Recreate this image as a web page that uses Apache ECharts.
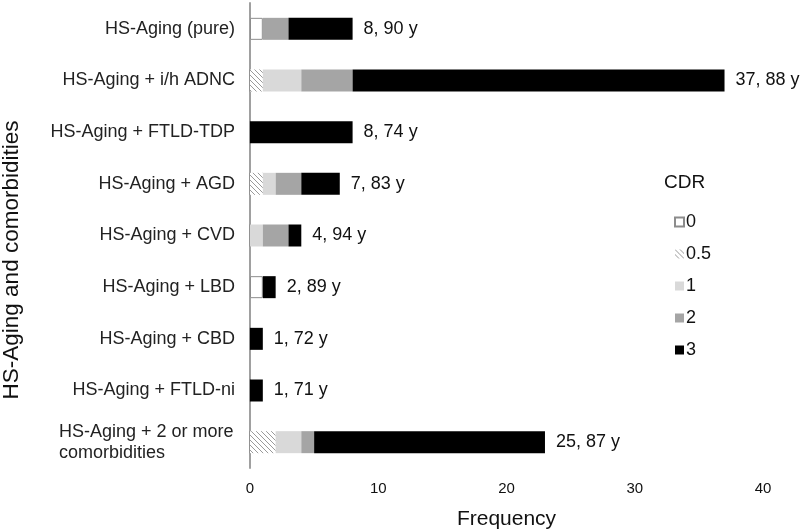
<!DOCTYPE html>
<html><head><meta charset="utf-8">
<script src="https://cdn.jsdelivr.net/npm/echarts@6/dist/echarts.min.js"></script>
<style>html,body{margin:0;padding:0;background:#fff}#c{width:800px;height:531px}</style>
</head><body><div id="c"></div>
<script>
const categories = ["HS-Aging (pure)", "HS-Aging + i/h ADNC", "HS-Aging + FTLD-TDP", "HS-Aging + AGD", "HS-Aging + CVD", "HS-Aging + LBD", "HS-Aging + CBD", "HS-Aging + FTLD-ni", "HS-Aging + 2 or more\ncomorbidities"];
const cdrNames = ["0", "0.5", "1", "2", "3"];
const cdr0  = [1, 0, 0, 0, 0, 1, 0, 0, 0];
const cdr05 = [0, 1, 0, 1, 0, 0, 0, 0, 2];
const cdr1  = [0, 3, 0, 1, 1, 0, 0, 0, 2];
const cdr2  = [2, 4, 0, 2, 2, 0, 0, 0, 1];
const cdr3  = [5, 29, 8, 3, 1, 1, 1, 1, 18];
const endLabels = ["8, 90 y", "37, 88 y", "8, 74 y", "7, 83 y", "4, 94 y", "2, 89 y", "1, 72 y", "1, 71 y", "25, 87 y"];
const xTicks = [0, 10, 20, 30, 40];
const yTitle = "HS-Aging and comorbidities";

const cv = document.createElement('canvas');
cv.width = 5; cv.height = 5;
const cx = cv.getContext('2d');
cx.fillStyle = '#fff'; cx.fillRect(0,0,5,5);
cx.fillStyle = '#9a9a9a';
for (let i=0;i<5;i++){ cx.fillRect(i,i,1,1); }
const hatch = {image: cv, repeat: 'repeat'};

const font = 'Liberation Sans, Arial, sans-serif';
const data = [cdr0, cdr05, cdr1, cdr2, cdr3];
const styles = [
  {color:'#ffffff', borderColor:'#8c8c8c', borderWidth:1},
  {color: hatch},
  {color:'#d9d9d9'},
  {color:'#a5a5a5'},
  {color:'#000000'}
];
const series = data.map((d,i)=>({
  name: cdrNames[i], type:'bar', stack:'s', data:d, barWidth:22,
  itemStyle: styles[i],
  label: i===4 ? {show:true, position:'right', distance:11, fontSize:18, color:'#111', fontFamily:font,
    formatter: p => endLabels[p.dataIndex]} : {show:false}
}));

const chart = echarts.init(document.getElementById('c'), null, {renderer:'canvas'});
chart.setOption({
  animation:false,
  backgroundColor:'#fff',
  title:{text:'CDR', left:659, top:168, textStyle:{fontSize:19, fontWeight:'normal', color:'#111', fontFamily:font}},
  legend:{orient:'vertical', left:669, top:208, itemWidth:9, itemHeight:9, itemGap:14, icon:'rect',
    textStyle:{fontSize:18, color:'#111', fontFamily:font, padding:[0,0,0,-3]},
    data: cdrNames},
  graphic:[{type:'text', x:12, y:260, rotation:Math.PI/2,
    style:{text:yTitle, align:'center', verticalAlign:'middle', fontSize:22.5, fill:'#111', fontFamily:font}}],
  grid:{left:250, right:37, top:3, bottom:63, outerBoundsMode:'none'},
  xAxis:{type:'value', min:xTicks[0], max:xTicks[xTicks.length-1], interval:10,
    axisLine:{show:false}, axisTick:{show:false}, splitLine:{show:false},
    axisLabel:{fontSize:15, color:'#111', fontFamily:font, margin:13},
    name:'Frequency', nameLocation:'middle', nameGap:41,
    nameTextStyle:{fontSize:21, color:'#111', fontFamily:font}},
  yAxis:{type:'category', inverse:true, data:categories,
    axisLine:{show:true, lineStyle:{color:'#a0a0a0', width:2}}, axisTick:{show:false},
    axisLabel:{fontSize:18, color:'#222', fontFamily:font, margin:15, lineHeight:21,
      formatter: v => v.indexOf('\n')>=0 ? v.split('\n').map(s=>'{l|'+s+'}').join('\n') : v,
      rich:{l:{width:176, align:'left', fontSize:18, color:'#222', fontFamily:font, lineHeight:21}}}},
  series: series
});
</script></body></html>
